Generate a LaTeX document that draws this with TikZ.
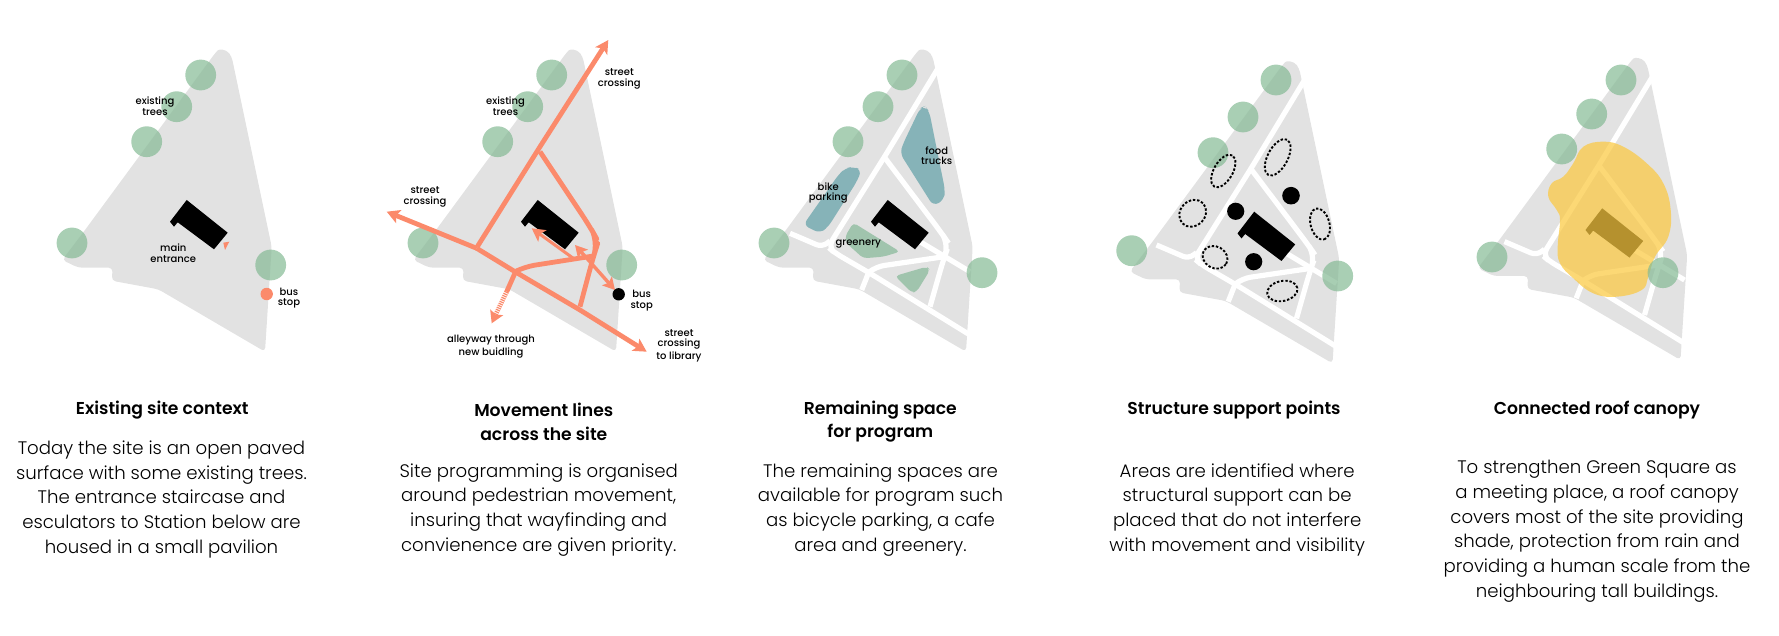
\documentclass[tikz,border=0pt]{standalone}
\usepackage{fontspec}
\setmainfont{Poppins}[UprightFont=* Light,BoldFont=* SemiBold]
\newfontfamily\mapfont{Poppins}[UprightFont=* Medium]
\usetikzlibrary{arrows.meta}
\definecolor{sitegray}{HTML}{E2E2E2}
\definecolor{treegreen}{RGB}{132,186,148}
\definecolor{patchblue}{HTML}{86B3B8}
\definecolor{patchgreen}{HTML}{A0C4AD}
\definecolor{coral}{HTML}{FB8A6B}
\definecolor{canopy}{RGB}{251,201,65}
\newcommand{\sitepoly}{\fill[sitegray,rounded corners=2pt] (215,53.3) .. controls (219,49) and (226,49) .. (231.7,56.7) -- (271.7,246.7) -- (265,351.7) -- (158.3,289.3) -- (111.7,280.7) -- (112.7,267.7) -- (78.3,267.7) -- (62.3,260) -- (85,230) -- cycle;}
\newcommand{\whitepaths}{%
\draw[wayline,rounded corners=4pt] (239,65) -- (184,156) -- (127,247) -- (134,253) -- (169,273.3) -- (269,335);
\draw[wayline,rounded corners=3pt] (89,233.3) -- (121,247) -- (129,241);
\draw[wayline,rounded corners=6pt] (184,158) -- (240.7,233.3) -- (248,244) -- (242.3,260) -- (229,306.7);
\draw[wayline] (219,241.7) -- (269,271.7);
\draw[wayline,rounded corners=4pt] (167,273) -- (175,266.7) -- (243,256.7);
\draw[wayline] (167.3,273.3) -- (160.7,290);
}
\newcommand{\sitebldg}{\fill (186.7,200) -- (227.7,232.7) -- (214,249.3) -- (177.7,222.3) -- (174,226.7) -- (170,221.7) -- cycle;}
\tikzset{
  x=0.5pt,y=-0.5pt,
  tree/.style={fill=treegreen,fill opacity=.7},
  wayline/.style={draw=white,line width=2.6pt},
  mapcap/.style={font=\mapfont\fontsize{5.0}{5.2}\selectfont,align=center,inner sep=0pt},
  paneltitle/.style={font=\fontsize{8.6}{11.7}\selectfont\bfseries,align=center,inner sep=0pt},
  panelbody/.style={font=\fontsize{9.07}{12.33}\selectfont,align=center,inner sep=0pt},
  move/.style={draw=coral,line width=2.4pt,line join=round},
  movetip/.style={-{Stealth[length=6.5pt,width=7pt,inset=1.5pt]}},
  moveboth/.style={{Stealth[length=6pt,width=6.5pt,inset=1.2pt]}-{Stealth[length=6pt,width=6.5pt,inset=1.2pt]}},
  dots/.style={draw=black,line width=0.95pt,dash pattern=on 1.2pt off 0.9pt},
}
\begin{document}
\begin{tikzpicture}
\useasboundingbox (0,0) rectangle (1779,636);
% panel 1
\begin{scope}
\sitepoly
\sitebldg
\fill[coral] (223.3,242.7) -- (229.3,241.7) -- (225,250) -- cycle;
\foreach \p in {(200.7,75),(176.7,106.7),(146.7,141.7),(72,243),(270.7,265)} \fill[tree] \p circle[radius=7.7pt];
\fill[coral] (266.7,294) circle[radius=3.1pt];
\node[mapcap] (a1) at (155,106) {existing\\trees};
\node[mapcap] (a2) at (173.3,253) {main\\entrance};
\node[mapcap] (a3) at (289,298) {bus\\stop};
\end{scope}
% panel 2
\begin{scope}[shift={(351,0)}]
\sitepoly
\sitebldg
\foreach \p in {(200.7,75),(176.7,106.7),(146.7,141.7),(72,243),(270.7,265)} \fill[tree] \p circle[radius=7.7pt];
\end{scope}
\draw[move,movetip] (477.3,246.7) -- (540,146.7) -- (608.3,40);
\draw[move,movetip] (476.7,248.3) -- (386.7,211.7);
\draw[move,movetip] (476.7,248.3) -- (515,271.7) -- (580,310) -- (646.7,351.7);
\draw[move,rounded corners=7pt] (540,151.7) -- (590,226.7) -- (598.3,241.7) -- (593.3,256.7) -- (580,306.7);
\draw[move,rounded corners=5pt] (515,271.7) -- (525,266.7) -- (593.3,256);
\draw[move] (515,273) -- (506.7,291.7);
\draw[draw=coral,line width=2.3pt,dash pattern=on .6pt off .5pt] (506.7,291.7) -- (494,318);
\draw[draw=coral,line width=1pt,-{Stealth[length=6pt,width=7pt,inset=1.2pt]}] (495,316) -- (491.7,323.3);
\draw[move,line width=1.5pt,movetip] (573.3,258.3) -- (531.7,228.3);
\draw[move,line width=1.7pt,moveboth] (575,245) -- (615,290);
\fill (618.7,294.3) circle[radius=3.1pt];
\node[mapcap] (b1) at (505.5,106) {existing\\trees};
\node[mapcap] (b2) at (619.3,79) {street\\crossing};
\node[mapcap] (b3) at (425,197) {street\\crossing};
\node[mapcap] (b4) at (641.7,300.7) {bus\\stop};
\node[mapcap] (b5) at (491,346.7) {alleyway through\\new buidling};
\node[mapcap] (b6) at (679,345.7) {street\\crossing\\to library};
% panel 3
\begin{scope}[shift={(701,0)}]
\sitepoly
\whitepaths
\sitebldg
\end{scope}
\fill[patchblue,rounded corners=3pt] (925,106) -- (929.3,111.7) -- (945,190) -- (944,200) -- (933.3,206) -- (900,153.3) -- (903.3,143.3) -- (920,108.3) -- cycle;
\fill[patchblue,rounded corners=3pt] (853.3,166.7) -- (861.7,170) -- (856.7,181.7) -- (828.3,226.7) -- (820,233.3) -- (803.3,225) -- (838.3,175) -- (845,168.3) -- cycle;
\fill[patchgreen,rounded corners=2pt] (853.3,222.7) -- (900,251.7) -- (883.3,256.7) -- (863.3,258.3) -- (846.7,243.3) -- (845,236.7) -- cycle;
\fill[patchgreen,rounded corners=2pt] (895,276) -- (926.7,266.7) -- (930,270) -- (916.7,291.7) -- (911.7,292.7) -- cycle;
\foreach \p in {(902,75),(878,106.7),(848,141.7),(774,243),(982,272.7)} \fill[tree] \p circle[radius=7.7pt];
\node[mapcap] (c1) at (936.7,155.7) {food\\trucks};
\node[mapcap] (c2) at (828.3,193.3) {bike\\parking};
\node[mapcap] (c3) at (858.3,244.3) {greenery};
% panel 4
\begin{scope}[shift={(1067.5,11.7)}]
\sitepoly
\whitepaths
\sitebldg
\end{scope}
\foreach \p in {(1276,80),(1243,117),(1213,152.7),(1131.7,250.7),(1337.7,276)} \fill[tree] \p circle[radius=7.7pt];
\fill (1235.7,211.3) circle[radius=4.3pt];
\fill (1291,195.7) circle[radius=4.4pt];
\fill (1253.7,261.7) circle[radius=4.3pt];
\draw[dots] (1223.3,171) circle[x radius=9pt,y radius=4.7pt,rotate=60];
\draw[dots] (1192.7,213.3) circle[x radius=7.2pt,y radius=6.2pt,rotate=45];
\draw[dots] (1215,257.3) circle[x radius=6.5pt,y radius=5.4pt,rotate=-30];
\draw[dots] (1277.7,157.3) circle[x radius=10pt,y radius=5pt,rotate=62];
\draw[dots] (1320,224) circle[x radius=8pt,y radius=4.7pt,rotate=-75];
\draw[dots] (1282.3,291) circle[x radius=7.7pt,y radius=5pt,rotate=12];
% panel 5
\begin{scope}[shift={(1415.5,8.3)}]
\sitepoly
\whitepaths
\sitebldg
\end{scope}
\fill[canopy,fill opacity=.72] plot[smooth cycle,tension=.7] coordinates {(1603.3,141.7) (1623.3,146.7) (1646.7,163.3) (1663.3,183.3) (1670.7,210) (1668.3,236.7) (1655,256.7) (1648.3,276.7) (1641.7,290) (1616.7,296.7) (1593.3,293.3) (1573.3,278.3) (1560,263.3) (1557.7,246.7) (1560,220) (1556.7,210) (1548.3,196.7) (1551.7,183.3) (1563.3,176.7) (1573.3,163.3) (1583.3,146.7)};
\foreach \p in {(1621,80),(1591.7,114),(1561.7,149),(1492,257),(1663,272.7)} \fill[tree] \p circle[radius=7.7pt];
% text
\node[paneltitle] (t1) at (162.3,410) {Existing site context};
\node[panelbody,anchor=north] (d1) at (161.5,440.5) {Today the site is an open paved\\surface with some existing trees.\\The entrance staircase and\\esculators to Station below are\\housed in a small pavilion};
\node[paneltitle] (t2) at (543.8,421.7) {Movement lines\\across the site};
\node[panelbody,anchor=north] (d2) at (538.7,463) {Site programming is organised\\around pedestrian movement,\\insuring that wayfinding and\\convienence are given priority.};
\node[paneltitle] (t3) at (880.3,421.7) {Remaining space\\for program};
\node[panelbody,anchor=north] (d3) at (880.5,463) {The remaining spaces are\\available for program such\\as bicycle parking, a cafe\\area and greenery.};
\node[paneltitle] (t4) at (1234,410) {Structure support points};
\node[panelbody,anchor=north] (d4) at (1237.2,463) {Areas are identified where\\structural support can be\\placed that do not interfere\\with movement and visibility};
\node[paneltitle] (t5) at (1597,410) {Connected roof canopy};
\node[panelbody,anchor=north] (d5) at (1597,460) {To strengthen Green Square as\\a meeting place, a roof canopy\\covers most of the site providing\\shade, protection from rain and\\providing a human scale from the\\neighbouring tall buildings.};
\end{tikzpicture}
\end{document}
